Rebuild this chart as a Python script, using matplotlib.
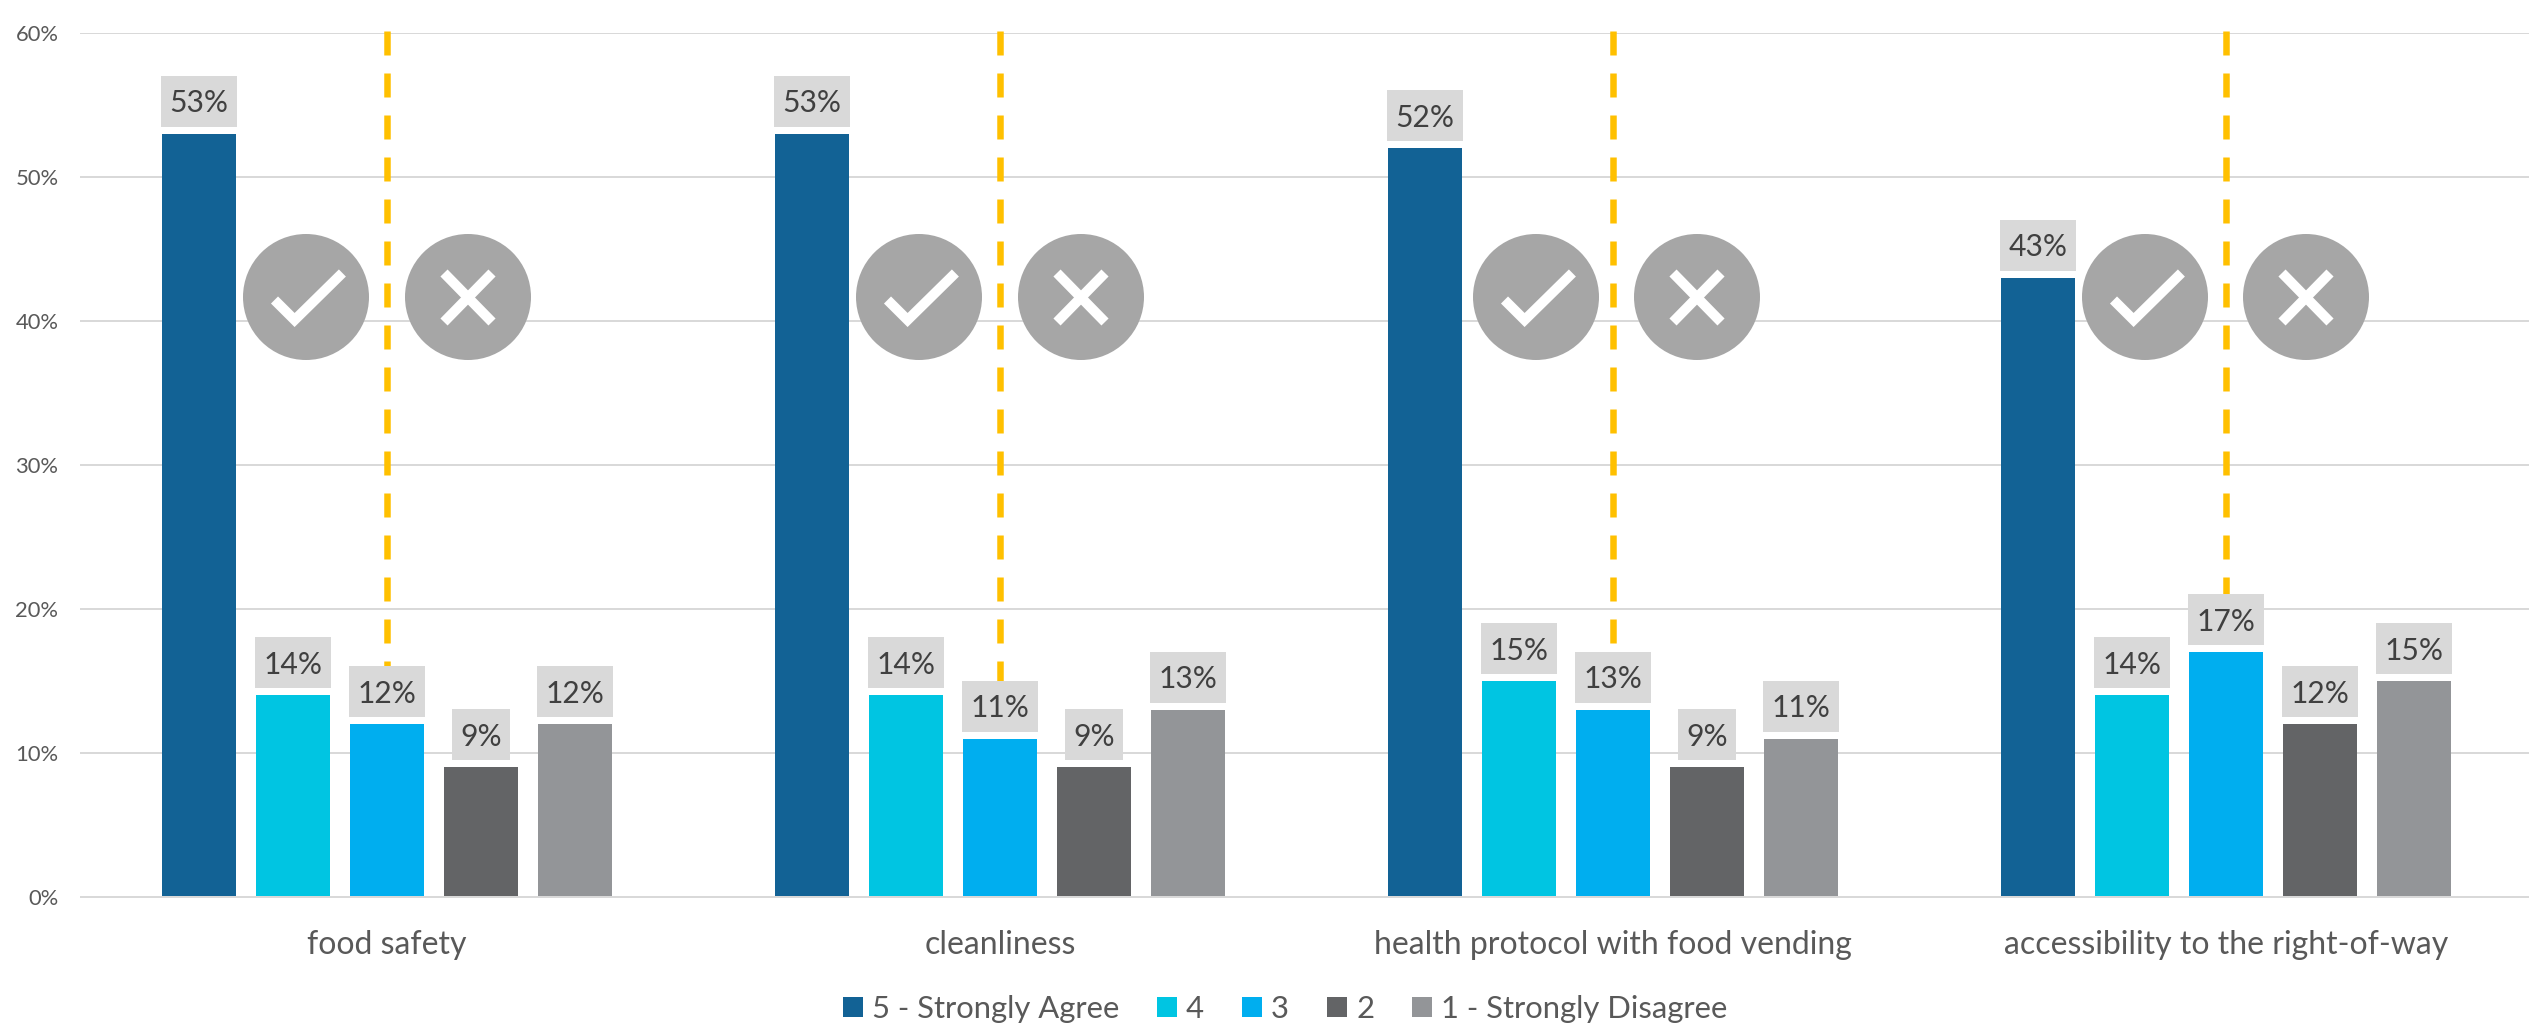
import matplotlib
matplotlib.use("Agg")
import matplotlib.pyplot as plt
import numpy as np
from matplotlib.patches import Rectangle, Circle
from matplotlib.lines import Line2D
from matplotlib.transforms import IdentityTransform

categories = ["food safety", "cleanliness", "health protocol with food vending",
              "accessibility to the right-of-way"]
series_names = ["5 - Strongly Agree", "4", "3", "2", "1 - Strongly Disagree"]
agree5 = [53, 53, 52, 43]
agree4 = [14, 14, 15, 14]
agree3 = [12, 11, 13, 17]
agree2 = [9, 9, 9, 12]
agree1 = [12, 13, 11, 15]
series_values = [agree5, agree4, agree3, agree2, agree1]
series_colors = ["#126295", "#00C5E2", "#00AEEF", "#636466", "#939598"]
yticks = [0, 10, 20, 30, 40, 50, 60]
# icon centres in image pixels (check, cross) for each group
icon_centres = [(306, 468), (919, 1081), (1536, 1697), (2145, 2306)]
icon_y = 297

W, H = 2529, 1025
plt.rcParams["font.family"] = ["Lato", "DejaVu Sans"]
fig = plt.figure(figsize=(W / 100, H / 100), dpi=100, facecolor="white")
left, right, top, bottom = 80.5, 2529, 33, 897
ax = fig.add_axes([left / W, 1 - bottom / H, (right - left) / W, (bottom - top) / H])
ax.set_xlim(-0.5, -0.5 + (right - left) / 613)
ax.set_ylim(0, 60)

PX = 0.72
step = 94 / 613
width = 74 / 613
x = np.arange(len(categories))

ax.set_axisbelow(True)
ax.yaxis.grid(True, color="#D9D9D9", lw=2 * PX)
ax.xaxis.grid(False)
for s in ["top", "right", "left"]:
    ax.spines[s].set_visible(False)
ax.spines["bottom"].set_color("#D9D9D9")
ax.spines["bottom"].set_linewidth(2 * PX)
ax.spines["bottom"].set_zorder(5)

ax.set_yticks(yticks)
ax.set_yticklabels([f"{v}%" for v in yticks], fontsize=22 * PX, color="#595959")
ax.set_xticks(x)
ax.set_xticklabels(categories, fontsize=32 * PX, color="#595959")
ax.tick_params(axis="y", length=0, pad=22 * PX)
ax.tick_params(axis="x", length=0, pad=33 * PX)

# dashed separators, stopping inside the middle bar's label box
lw = 6.5 * PX
for i in x:
    ln, = ax.plot([i, i], [60.15, agree3[i] + 2], color="#FFC000", lw=lw, zorder=2,
                  clip_on=False, solid_capstyle="butt")
    ln.set_linestyle((0, (24 / 6.5, 18 / 6.5)))
    ln.set_dash_capstyle("butt")

handles = []
for j, (name, vals, col) in enumerate(zip(series_names, series_values, series_colors)):
    bars = ax.bar(x + (j - 2) * step, vals, width, color=col, zorder=3, label=name)
    handles.append(bars)

fig.canvas.draw()
rend = fig.canvas.get_renderer()
for j, vals in enumerate(series_values):
    for i, v in enumerate(vals):
        px, py = ax.transData.transform((x[i] + (j - 2) * step, v))
        cy = py + 7 + 25.5
        t = ax.text(px, cy - 11, f"{v}%", transform=IdentityTransform(), ha="center",
                    va="baseline", fontsize=30 * PX, color="#404040", zorder=7, clip_on=False)
        w = t.get_window_extent(rend).width
        ax.add_patch(Rectangle((px - w / 2 - 8.5, cy - 25.5), w + 17, 51, facecolor="#D9D9D9",
                               edgecolor="none", transform=IdentityTransform(), zorder=6,
                               clip_on=False))

# icons in image-pixel coordinates
ov = fig.add_axes([0, 0, 1, 1], facecolor="none")
ov.set_xlim(0, W)
ov.set_ylim(H, 0)
ov.axis("off")
sw = 10 * PX
for cx_c, cx_x in icon_centres:
    ov.add_patch(Circle((cx_c, icon_y), 63, facecolor="#A6A6A6", edgecolor="none"))
    ov.add_patch(Circle((cx_x, icon_y), 63, facecolor="#A6A6A6", edgecolor="none"))
    ov.add_line(Line2D([cx_c - 31.5, cx_c - 11.4, cx_c + 36.4],
                       [icon_y + 3, icon_y + 23, icon_y - 24], color="white", lw=sw,
                       solid_capstyle="butt", solid_joinstyle="miter"))
    ov.add_line(Line2D([cx_x - 24, cx_x + 24], [icon_y - 24, icon_y + 25], color="white", lw=sw,
                       solid_capstyle="butt"))
    ov.add_line(Line2D([cx_x + 24, cx_x - 24], [icon_y - 24, icon_y + 25], color="white", lw=sw,
                       solid_capstyle="butt"))

fpx = 31
ax.legend(loc="center", bbox_to_anchor=(1285 / W, 1 - 1009 / H), bbox_transform=fig.transFigure,
          ncol=5, frameon=False, prop={"size": fpx * PX}, labelcolor="#595959",
          handlelength=20 / fpx, handleheight=20 / fpx, handletextpad=9 / fpx,
          columnspacing=38 / fpx, borderpad=0, borderaxespad=0)

fig.savefig("out.png", dpi=100, facecolor="white")
